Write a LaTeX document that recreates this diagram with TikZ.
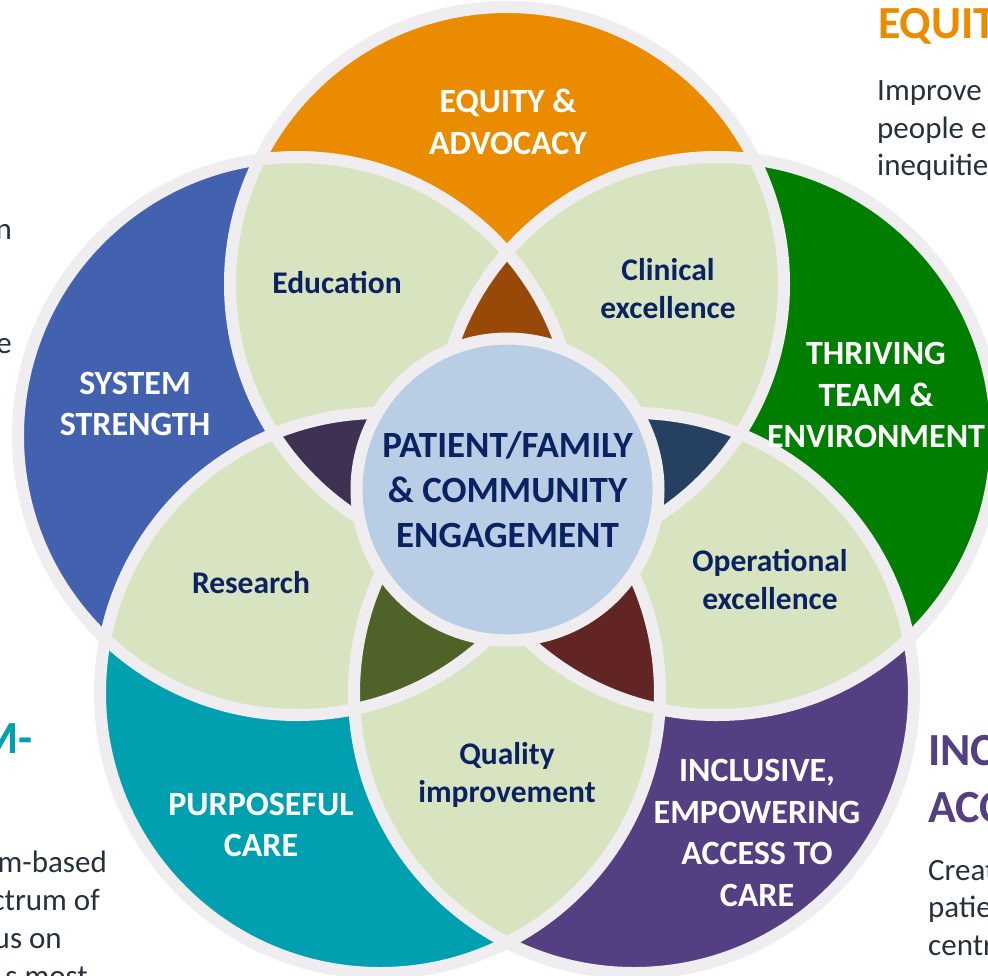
\documentclass[tikz,border=0pt]{standalone}
\usepackage{fontspec}
\setmainfont{Carlito}
\usepackage{tikz}
\usetikzlibrary{positioning}
\definecolor{eqorange}{HTML}{EB8C00}
\definecolor{sysblue}{HTML}{4261AE}
\definecolor{thrgreen}{HTML}{007E00}
\definecolor{purteal}{HTML}{00A0B0}
\definecolor{incpurple}{HTML}{553F83}
\definecolor{lensgreen}{HTML}{D8E4BF}
\definecolor{hubblue}{HTML}{B9CDE5}
\definecolor{ringgray}{HTML}{EFEDEF}
\definecolor{navytext}{HTML}{0A2262}
\definecolor{bodygray}{HTML}{27303D}
\definecolor{tribrown}{HTML}{984807}
\definecolor{tripurple}{HTML}{3F3151}
\definecolor{trinavy}{HTML}{254061}
\definecolor{triolive}{HTML}{4F6228}
\definecolor{trimaroon}{HTML}{632523}
\tikzset{ringline/.style={draw=ringgray, line width=12pt},
    petaltext/.style={text=white, align=center, inner sep=0pt, font=\bfseries\fontsize{34}{41.5}\selectfont},
    lenstext/.style={text=navytext, align=center, inner sep=0pt, font=\bfseries\fontsize{31.5}{38}\selectfont},
    hub/.style={circle, fill=hubblue, draw=ringgray, line width=12pt, minimum size=302pt, inner sep=0pt,
        text=navytext, align=center, font=\bfseries\fontsize{37}{45}\selectfont},
    bodytext/.style={text=bodygray, inner sep=0pt, font=\fontsize{31}{37.5}\selectfont},
    headtext/.style={inner sep=0pt, font=\bfseries\fontsize{46}{57}\selectfont}}

\begin{document}
\begin{tikzpicture}[x=1pt, y=-1pt]
\useasboundingbox (0,0) rectangle (988,975);
\clip (0,0) rectangle (988,975);
\fill[white] (0,0) rectangle (988,975);

\coordinate (equity) at (507,284);
\coordinate (system) at (297,436);
\coordinate (thriving) at (717,436);
\coordinate (purposeful) at (380,693);
\coordinate (inclusive) at (634,693);

% petals
\fill[eqorange] (equity) circle (277pt);
\fill[sysblue] (system) circle (279pt);
\fill[thrgreen] (thriving) circle (279pt);
\fill[purteal] (purposeful) circle (280pt);
\fill[incpurple] (inclusive) circle (280pt);

% neighbour overlaps
\begin{scope}
  \clip (equity) circle (277pt);
  \fill[lensgreen] (system) circle (279pt);
  \fill[lensgreen] (thriving) circle (279pt);
\end{scope}
\begin{scope}
  \clip (purposeful) circle (280pt);
  \fill[lensgreen] (system) circle (279pt);
  \fill[lensgreen] (inclusive) circle (280pt);
\end{scope}
\begin{scope}
  \clip (inclusive) circle (280pt);
  \fill[lensgreen] (thriving) circle (279pt);
\end{scope}

% wedges where three meet
\begin{scope}
  \clip (system) circle (279pt);
  \clip (thriving) circle (279pt);
  \fill[tribrown] (equity) circle (277pt);
\end{scope}
\begin{scope}
  \clip (equity) circle (277pt);
  \clip (purposeful) circle (280pt);
  \fill[tripurple] (system) circle (279pt);
\end{scope}
\begin{scope}
  \clip (equity) circle (277pt);
  \clip (inclusive) circle (280pt);
  \fill[trinavy] (thriving) circle (279pt);
\end{scope}
\begin{scope}
  \clip (system) circle (279pt);
  \clip (inclusive) circle (280pt);
  \fill[triolive] (purposeful) circle (280pt);
\end{scope}
\begin{scope}
  \clip (thriving) circle (279pt);
  \clip (purposeful) circle (280pt);
  \fill[trimaroon] (inclusive) circle (280pt);
\end{scope}

\draw[ringline] (equity) circle (277pt);
\draw[ringline] (system) circle (279pt);
\draw[ringline] (thriving) circle (279pt);
\draw[ringline] (purposeful) circle (280pt);
\draw[ringline] (inclusive) circle (280pt);

\node[hub] (engagement) at (507.5,489.5) {PATIENT/FAMILY\\\& COMMUNITY\\ENGAGEMENT};

\node[petaltext] (equitylabel) at (508,122) {EQUITY \&\\ADVOCACY};
\node[petaltext] (systemlabel) at (135,404) {SYSTEM\\STRENGTH};
\node[petaltext] (thrivinglabel) at (876,395) {THRIVING\\TEAM \&\\ENVIRONMENT};
\node[petaltext] (purposefullabel) at (261,825) {PURPOSEFUL\\CARE};
\node[petaltext] (inclusivelabel) at (757,833) {INCLUSIVE,\\EMPOWERING\\ACCESS TO\\CARE};

\node[lenstext] (education) at (337,283) {Education};
\node[lenstext] (clinical) at (668,289) {Clinical\\excellence};
\node[lenstext] (research) at (251,583) {Research};
\node[lenstext] (operational) at (770,580) {Operational\\excellence};
\node[lenstext] (quality) at (507,775) {Quality\\improvement};

% text cut off at the edges
\node[headtext, text=eqorange, anchor=base west] (equityhead) at (878,38) {EQUIT};
\node[bodytext, anchor=base west] (equitya) at (877,100) {Improve};
\node[bodytext, anchor=base west] (equityb) at (877,138) {people e};
\node[bodytext, anchor=base west] (equityc) at (877,175) {inequitie};

\node[bodytext, anchor=base east] (systema) at (12,239) {n};
\node[bodytext, anchor=base east] (systemb) at (12,353) {e};

\node[headtext, text=purteal, anchor=base east] (purposefulhead) at (33,753) {M-};
\node[bodytext, anchor=base east] (purposefula) at (107,872) {m-based};
\node[bodytext, anchor=base east] (purposefulb) at (100,910) {ctrum of};
\node[bodytext, anchor=base east] (purposefulc) at (62,948) {us on};
\node[bodytext, anchor=base east] (purposefuld) at (88,986) {s most};

\node[headtext, text=incpurple, anchor=base west] (inclusivehead) at (928,765) {INC};
\node[headtext, text=incpurple, anchor=base west] (inclusivehead2) at (928,822) {ACC};
\node[bodytext, anchor=base west] (inclusivea) at (928,880) {Creat};
\node[bodytext, anchor=base west] (inclusiveb) at (928,917) {patie};
\node[bodytext, anchor=base west] (inclusivec) at (928,955) {centr};
\end{tikzpicture}
\end{document}
